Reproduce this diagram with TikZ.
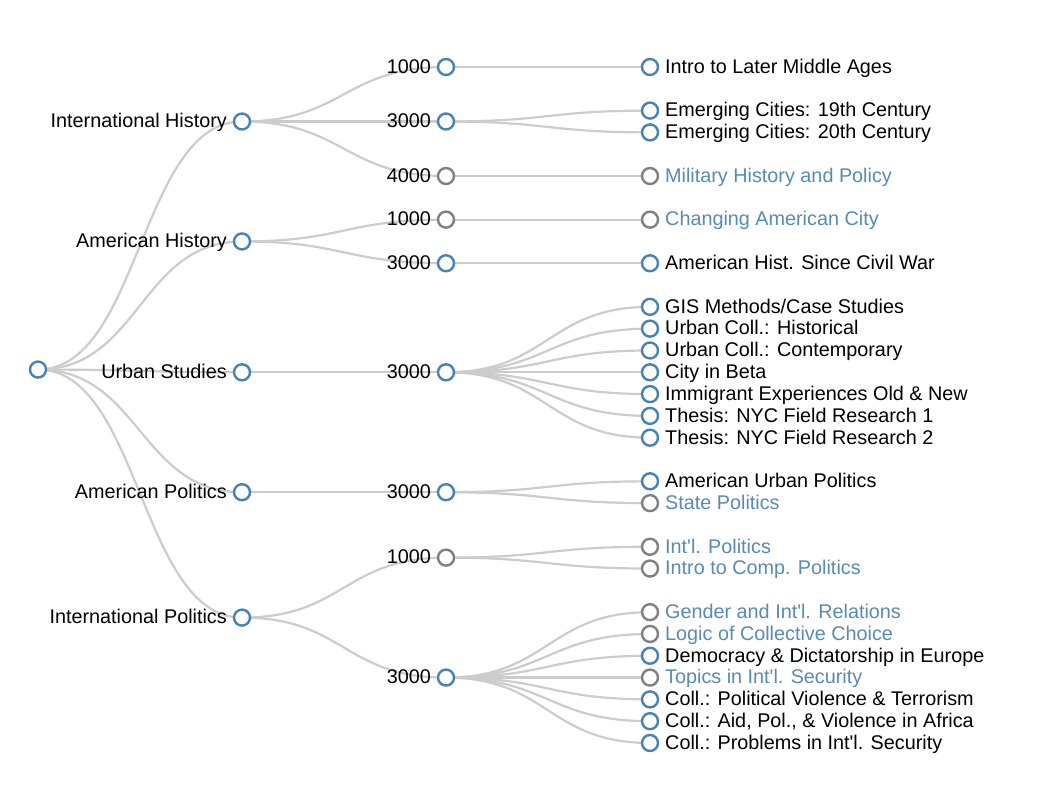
\documentclass[tikz,border=0pt]{standalone}
\usepackage{fontspec}
\setmainfont{Liberation Sans}
\usetikzlibrary{calc}
\pgfdeclarelayer{bg}
\pgfsetlayers{bg,main}
\definecolor{nodeblue}{RGB}{70,130,180}
\definecolor{nodegray}{RGB}{128,128,128}
\definecolor{linkgray}{RGB}{204,204,204}
\definecolor{textblue}{RGB}{88,138,178}
\newcommand{\apo}{\textquotesingle}
\begin{document}
\begin{tikzpicture}[x=1pt,y=-21.806pt,
  nb/.style={circle,draw=nodeblue,fill=white,line width=2.4pt,minimum size=16pt,inner sep=0pt},
  ng/.style={nb,draw=nodegray},
  lbl/.style={inner sep=0pt,font=\fontsize{19.8}{22}\selectfont,text=black},
  lblb/.style={lbl,text=textblue},
  lleft/.style={anchor=base east,xshift=-15pt,yshift=-6.3pt},
  lright/.style={anchor=base west,xshift=15pt,yshift=-6.3pt},
  link/.style={draw=linkgray,line width=2.2pt},
  diag/.style={to path={.. controls +(102,0) and +(-102,0) .. (\tikztotarget)}}]
\useasboundingbox (0,-3.0725) rectangle (1048,33.247);
% root and level 1
\node[nb] (r) at (38,13.875) {};
\node[nb] (IH) at (242,2.5) {};
\node[nb] (AH) at (242,8) {};
\node[nb] (US) at (242,14) {};
\node[nb] (AP) at (242,19.5) {};
\node[nb] (IP) at (242,25.25) {};
\node[lbl,lleft] (tIH) at (IH.center) {International History};
\node[lbl,lleft] (tAH) at (AH.center) {American History};
\node[lbl,lleft] (tUS) at (US.center) {Urban Studies};
\node[lbl,lleft] (tAP) at (AP.center) {American Politics};
\node[lbl,lleft] (tIP) at (IP.center) {International Politics};
% level 2
\node[nb] (a1) at (446,0) {};
\node[nb] (a2) at (446,2.5) {};
\node[ng] (a3) at (446,5) {};
\node[ng] (b1) at (446,7) {};
\node[nb] (b2) at (446,9) {};
\node[nb] (c1) at (446,14) {};
\node[nb] (d1) at (446,19.5) {};
\node[ng] (e1) at (446,22.5) {};
\node[nb] (e2) at (446,28) {};
\foreach \n/\t in {a1/1000,a2/3000,a3/4000,b1/1000,b2/3000,c1/3000,d1/3000,e1/1000,e2/3000}
  \node[lbl,lleft] (t\n) at (\n.center) {\t};
% leaves
\node[nb] (L0) at (650,0) {};
\node[nb] (L2) at (650,2) {};
\node[nb] (L3) at (650,3) {};
\node[ng] (L5) at (650,5) {};
\node[ng] (L7) at (650,7) {};
\node[nb] (L9) at (650,9) {};
\node[nb] (L11) at (650,11) {};
\node[nb] (L12) at (650,12) {};
\node[nb] (L13) at (650,13) {};
\node[nb] (L14) at (650,14) {};
\node[nb] (L15) at (650,15) {};
\node[nb] (L16) at (650,16) {};
\node[nb] (L17) at (650,17) {};
\node[nb] (L19) at (650,19) {};
\node[ng] (L20) at (650,20) {};
\node[ng] (L22) at (650,22) {};
\node[ng] (L23) at (650,23) {};
\node[ng] (L25) at (650,25) {};
\node[ng] (L26) at (650,26) {};
\node[nb] (L27) at (650,27) {};
\node[ng] (L28) at (650,28) {};
\node[nb] (L29) at (650,29) {};
\node[nb] (L30) at (650,30) {};
\node[nb] (L31) at (650,31) {};
\node[lbl,lright] (tL0) at (L0.center) {Intro to Later Middle Ages};
\node[lbl,lright] (tL2) at (L2.center) {Emerging Cities: 19th Century};
\node[lbl,lright] (tL3) at (L3.center) {Emerging Cities: 20th Century};
\node[lblb,lright] (tL5) at (L5.center) {Military History and Policy};
\node[lblb,lright] (tL7) at (L7.center) {Changing American City};
\node[lbl,lright] (tL9) at (L9.center) {American Hist. Since Civil War};
\node[lbl,lright] (tL11) at (L11.center) {GIS Methods/Case Studies};
\node[lbl,lright] (tL12) at (L12.center) {Urban Coll.: Historical};
\node[lbl,lright] (tL13) at (L13.center) {Urban Coll.: Contemporary};
\node[lbl,lright] (tL14) at (L14.center) {City in Beta};
\node[lbl,lright] (tL15) at (L15.center) {Immigrant Experiences Old \& New};
\node[lbl,lright] (tL16) at (L16.center) {Thesis: NYC Field Research 1};
\node[lbl,lright] (tL17) at (L17.center) {Thesis: NYC Field Research 2};
\node[lbl,lright] (tL19) at (L19.center) {American Urban Politics};
\node[lblb,lright] (tL20) at (L20.center) {State Politics};
\node[lblb,lright] (tL22) at (L22.center) {Int\apo l. Politics};
\node[lblb,lright] (tL23) at (L23.center) {Intro to Comp. Politics};
\node[lblb,lright] (tL25) at (L25.center) {Gender and Int\apo l. Relations};
\node[lblb,lright] (tL26) at (L26.center) {Logic of Collective Choice};
\node[lbl,lright] (tL27) at (L27.center) {Democracy \& Dictatorship in Europe};
\node[lblb,lright] (tL28) at (L28.center) {Topics in Int\apo l. Security};
\node[lbl,lright] (tL29) at (L29.center) {Coll.: Political Violence \& Terrorism};
\node[lbl,lright] (tL30) at (L30.center) {Coll.: Aid, Pol., \& Violence in Africa};
\node[lbl,lright] (tL31) at (L31.center) {Coll.: Problems in Int\apo l. Security};
% links
\begin{pgfonlayer}{bg}
\foreach \c in {IH,AH,US,AP,IP} \draw[link] (r.center) to[diag] (\c.center);
\foreach \p/\c in {IH/a1,IH/a2,IH/a3,AH/b1,AH/b2,US/c1,AP/d1,IP/e1,IP/e2} \draw[link] (\p.center) to[diag] (\c.center);
\foreach \p/\c in {a1/L0,a2/L2,a2/L3,a3/L5,b1/L7,b2/L9,c1/L11,c1/L12,c1/L13,c1/L14,c1/L15,c1/L16,c1/L17,d1/L19,d1/L20,e1/L22,e1/L23,e2/L25,e2/L26,e2/L27,e2/L28,e2/L29,e2/L30,e2/L31}
  \draw[link] (\p.center) to[diag] (\c.center);
\end{pgfonlayer}
\end{tikzpicture}
\end{document}
